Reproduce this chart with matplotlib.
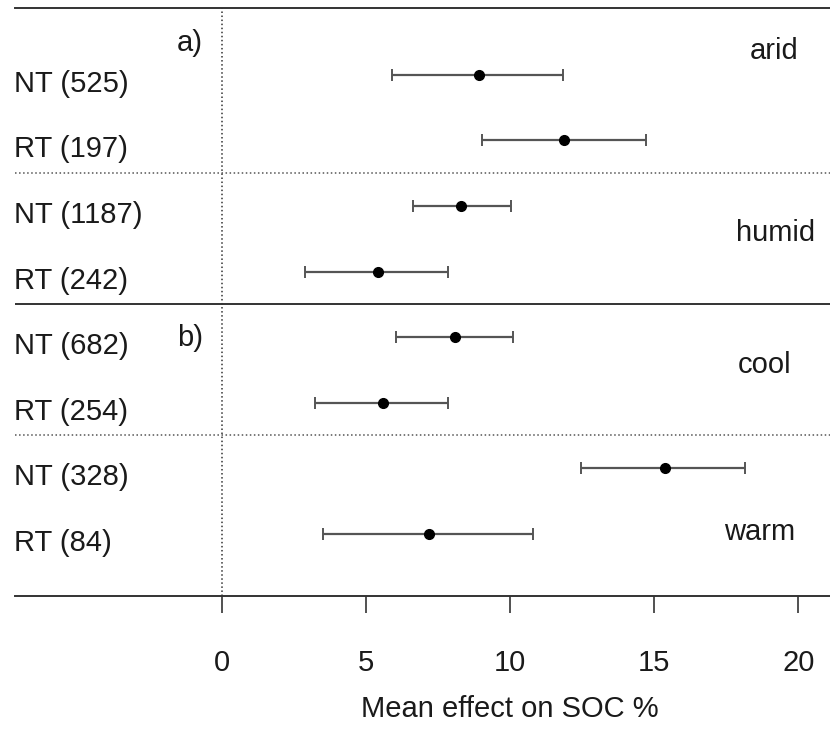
import matplotlib
matplotlib.use("Agg")
import matplotlib.pyplot as plt
import matplotlib.transforms as mtransforms

plt.rcParams['font.family'] = ['Liberation Sans', 'DejaVu Sans']

# effect sizes (%) with confidence limits, top to bottom
labels = ['NT (525)', 'RT (197)', 'NT (1187)', 'RT (242)',
          'NT (682)', 'RT (254)', 'NT (328)', 'RT (84)']
mean = [8.91, 11.86, 8.28, 5.42, 8.09, 5.57, 15.37, 7.18]
lower = [5.89, 9.03, 6.61, 2.86, 6.02, 3.22, 12.47, 3.50]
upper = [11.83, 14.71, 10.01, 7.84, 10.08, 7.85, 18.14, 10.78]

groups = ['arid', 'humid', 'cool', 'warm']
group_y = [-0.24, 2.54, 4.55, 7.09]
group_x = [19.17, 19.2, 18.82, 18.65]

xticks = [0, 5, 10, 15, 20]

fs = 21
txt = '#1a1a1a'
line = '#333333'

fig = plt.figure(figsize=(8.3, 7.32), dpi=100)
ax = fig.add_axes([15/830, 1 - 596/732, 815/830, (596 - 8)/732])

y = list(range(len(labels)))
xerr = [[m - l for m, l in zip(mean, lower)], [u - m for m, u in zip(mean, upper)]]
ax.errorbar(mean, y, xerr=xerr, fmt='o', color='black', ms=7,
            ecolor='#555555', elinewidth=1.6, capsize=4, capthick=1.4, zorder=3)

ax.axvline(0, color=line, ls=':', lw=1.1)
ax.axhline(1.5, color='#555555', ls=':', lw=1.1)
ax.axhline(5.5, color='#555555', ls=':', lw=1.1)
ax.axhline(3.5, color=line, lw=1.4)

ax.set_xlim(-7.19, 21.1)
ax.set_ylim(7.95, -1.02)

for s in ['left', 'right']:
    ax.spines[s].set_visible(False)
for s in ['top', 'bottom']:
    ax.spines[s].set_color(line)
    ax.spines[s].set_linewidth(1.4)

ax.set_yticks([])
ax.set_xticks(xticks)
ax.tick_params(axis='x', direction='out', length=12, width=1.2, color=line,
               pad=26, labelsize=fs, labelcolor=txt)

# axis title sits under the middle of the 0-20 range
xlab = mtransforms.blended_transform_factory(ax.transData, fig.transFigure)
ax.text(10, 1 - 717/732, 'Mean effect on SOC %', transform=xlab,
        ha='center', va='baseline', fontsize=fs, color=txt)

# row labels on the left edge
trans = mtransforms.blended_transform_factory(fig.transFigure, ax.transData)
for yi, lab in zip(y, labels):
    ax.text(14/830, yi + 0.26, lab, transform=trans, ha='left', va='baseline',
            fontsize=fs, color=txt)

for g, gx, gy in zip(groups, group_x, group_y):
    ax.text(gx, gy, g, ha='center', va='baseline', fontsize=fs, color=txt)

ax.text(-0.66, -0.365, 'a)', ha='right', va='baseline', fontsize=fs, color=txt)
ax.text(-0.66, 4.14, 'b)', ha='right', va='baseline', fontsize=fs, color=txt)

fig.savefig('out.png', dpi=100)
